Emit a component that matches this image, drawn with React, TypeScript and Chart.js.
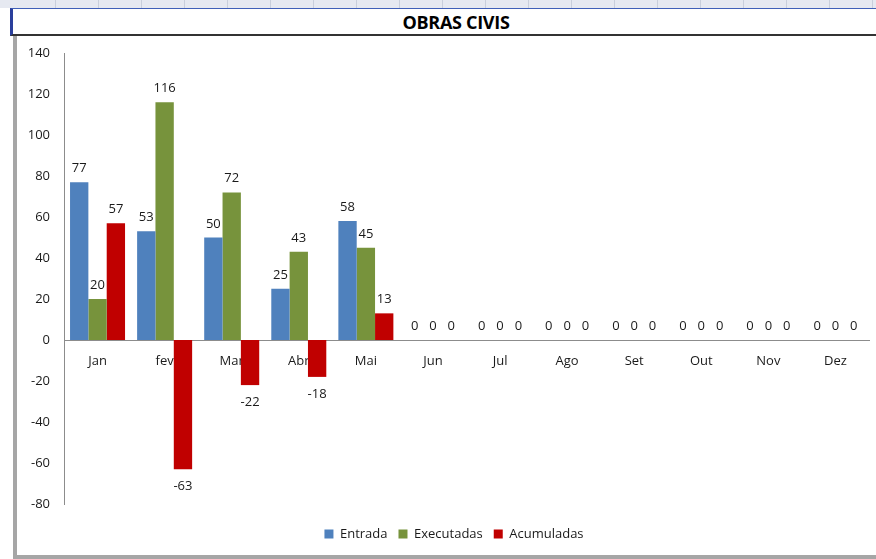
import React, { useEffect, useRef } from "react";
import { Chart, registerables } from "chart.js";

Chart.register(...registerables);

const months = ["Jan", "fev", "Mar", "Abr", "Mai", "Jun", "Jul", "Ago", "Set", "Out", "Nov", "Dez"];
const entrada = [77, 53, 50, 25, 58, 0, 0, 0, 0, 0, 0, 0];
const executadas = [20, 116, 72, 43, 45, 0, 0, 0, 0, 0, 0, 0];
const acumuladas = [57, -63, -22, -18, 13, 0, 0, 0, 0, 0, 0, 0];
const chartTitle = "OBRAS CIVIS";

const FONT = "'Open Sans', 'DejaVu Sans', sans-serif";

const valueLabels = {
  id: "valueLabels",
  afterDatasetsDraw(chart: any) {
    const ctx = chart.ctx;
    ctx.save();
    ctx.font = `13px ${FONT}`;
    ctx.fillStyle = "#1a1a1a";
    ctx.textAlign = "center";
    ctx.textBaseline = "alphabetic";
    chart.data.datasets.forEach((ds: any, di: number) => {
      const meta = chart.getDatasetMeta(di);
      meta.data.forEach((el: any, i: number) => {
        const v = ds.data[i];
        const y = v >= 0 ? el.y - 10 : el.y + 21;
        ctx.fillText(String(v), el.x, y);
      });
    });
    ctx.restore();
  },
};

const legendShift = {
  id: "legendShift",
  afterLayout(chart: any) {
    const l = chart.legend;
    if (l) {
      l.left += 10.5;
      l.right += 10.5;
    }
  },
};

export default function App() {
  const ref = useRef<HTMLCanvasElement | null>(null);

  useEffect(() => {
    if (!ref.current) return;
    const chart = new Chart(ref.current, {
      type: "bar",
      data: {
        labels: months,
        datasets: [
          { label: "Entrada", data: entrada, backgroundColor: "#4F81BD" },
          { label: "Executadas", data: executadas, backgroundColor: "#77933C" },
          { label: "Acumuladas", data: acumuladas, backgroundColor: "#C00000" },
        ],
      },
      options: {
        responsive: false,
        animation: false,
        maintainAspectRatio: false,
        datasets: { bar: { categoryPercentage: 0.82, barPercentage: 1 } },
        layout: { padding: { left: 0, right: 21, top: 17, bottom: 4.5 } },
        plugins: {
          legend: {
            position: "bottom",
            title: { display: true, text: "", padding: 0, font: { size: 10, lineHeight: 1.25 } },
            labels: {
              boxWidth: 9,
              boxHeight: 9,
              padding: 11,
              color: "#1a1a1a",
              font: { family: FONT, size: 13 },
            },
          },
          tooltip: { enabled: false },
          title: { display: false },
        },
        scales: {
          x: {
            position: { y: 0 } as any,
            grid: { display: false },
            border: { display: true, color: "#8c8c8c", width: 1 },
            ticks: { color: "#1a1a1a", padding: 5, font: { family: FONT, size: 13 }, maxRotation: 0, autoSkip: false },
          },
          y: {
            min: -80,
            max: 140,
            grid: { display: false },
            border: { display: true, color: "#8c8c8c", width: 1 },
            ticks: { stepSize: 20, color: "#1a1a1a", padding: 6, font: { family: FONT, size: 13 } },
            afterFit: (s: any) => {
              s.width = 46;
            },
          },
        },
      },
      plugins: [valueLabels, legendShift],
    });
    return () => chart.destroy();
  }, []);

  return (
    <div
      style={{
        position: "fixed",
        left: 0,
        top: 0,
        width: 876,
        height: 559,
        overflow: "hidden",
        background: "#ffffff",
      }}
    >
      <div
        style={{
          position: "absolute",
          left: 0,
          top: 0,
          width: 876,
          height: 8,
          background:
            "repeating-linear-gradient(to right, #e6e9f1 0px, #e6e9f1 42px, #c9cfdc 42px, #c9cfdc 43px)",
          backgroundPosition: "13px 0",
        }}
      />
      <div
        style={{
          position: "absolute",
          left: 10,
          top: 8,
          width: 886,
          height: 25,
          boxSizing: "content-box",
          borderTop: "1px solid #4060b8",
          borderLeft: "3px solid #2a3f9c",
          borderBottom: "2px solid #333333",
          background: "#ffffff",
          display: "flex",
          alignItems: "center",
          justifyContent: "center",
          fontFamily: FONT,
          fontWeight: 700,
          fontSize: 18,
          color: "#000000",
          letterSpacing: -0.3,
        }}
      >
        {chartTitle}
      </div>
      <div style={{ position: "absolute", left: 13, top: 36, width: 4, height: 523, background: "#a6a6a6" }} />
      <div style={{ position: "absolute", left: 13, top: 555, width: 876, height: 4, background: "#a6a6a6" }} />
      <canvas
        ref={ref}
        width={872}
        height={519}
        style={{ position: "absolute", left: 18, top: 36, width: 872, height: 519 }}
      />
    </div>
  );
}
